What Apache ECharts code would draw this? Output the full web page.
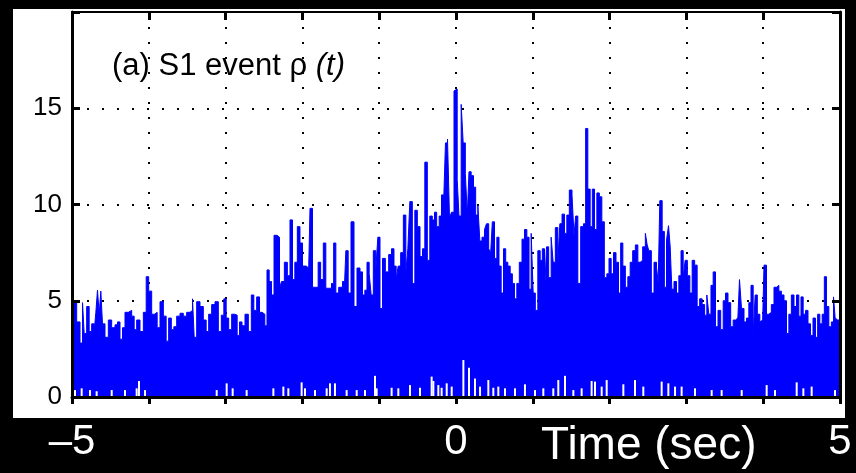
<!DOCTYPE html>
<html>
<head>
<meta charset="utf-8">
<title>S1 event rho(t)</title>
<script src="https://cdn.jsdelivr.net/npm/echarts@6/dist/echarts.min.js"></script>
<style>
  html, body { margin: 0; padding: 0; background: #000; }
  #wrap { position: relative; width: 856px; height: 473px; overflow: hidden; }
  #panel { position: absolute; left: 13px; top: 9px; width: 832px; height: 409px; background: #fff; }
  #chart { position: absolute; left: 0; top: 0; width: 856px; height: 473px; }
</style>
</head>
<body>
<div id="wrap">
  <div id="panel"></div>
  <div id="chart"></div>
</div>
<script>
// upper edge of rho(t) as [time (s), value]
var upperA = [[-5.000,4.2],[-4.961,4.95],[-4.917,3.9],[-4.874,2.8],[-4.852,4.9],[-4.831,3.3],[-4.787,4.7],[-4.766,3.4],[-4.722,3.8],[-4.700,3.4],[-4.679,4.4],[-4.657,5.55],[-4.635,4.3],[-4.614,5.5],[-4.592,3.8],[-4.549,3.1],[-4.505,4.0],[-4.462,3.6],[-4.418,3.75],[-4.397,3.9],[-4.353,3.0],[-4.332,3.6],[-4.288,4.4],[-4.245,4.5],[-4.201,4.2],[-4.180,3.5],[-4.136,4.0],[-4.093,3.4],[-4.049,4.4],[-4.019,6.25],[-3.984,5.5],[-3.941,4.3],[-3.906,4.4],[-3.876,3.6],[-3.832,4.95],[-3.789,4.2],[-3.759,2.9],[-3.724,4.1],[-3.689,3.5],[-3.659,3.65],[-3.615,4.2],[-3.572,4.35],[-3.529,4.2],[-3.485,4.4],[-3.442,4.5],[-3.420,5.1],[-3.398,3.1],[-3.355,4.95],[-3.312,4.7],[-3.268,4.0],[-3.238,3.4],[-3.203,4.3],[-3.160,4.8],[-3.116,4.95],[-3.073,3.4],[-3.038,4.25],[-3.008,5.1],[-2.977,4.1],[-2.943,3.5],[-2.899,4.3],[-2.865,4.25],[-2.834,3.2],[-2.804,3.9],[-2.769,3.7],[-2.726,4.3],[-2.682,3.4],[-2.648,5.3],[-2.617,4.5],[-2.574,5.2],[-2.543,4.4],[-2.509,4.3]];
var upperB = [[-2.504,4.3],[-2.474,3.7],[-2.448,6.6],[-2.417,6.0],[-2.387,5.3],[-2.352,8.4],[-2.309,8.3],[-2.287,5.65],[-2.257,6.0],[-2.213,7.0],[-2.179,6.3],[-2.144,9.2],[-2.114,6.1],[-2.083,7.0],[-2.049,8.85],[-2.014,8.0],[-1.983,6.8],[-1.918,6.7],[-1.884,9.8],[-1.853,5.7],[-1.810,5.7],[-1.780,7.0],[-1.745,6.1],[-1.710,8.0],[-1.680,5.65],[-1.636,5.65],[-1.606,5.9],[-1.580,8.0],[-1.549,5.4],[-1.506,5.7],[-1.450,6.0],[-1.419,7.6],[-1.389,5.4],[-1.345,9.1],[-1.311,4.7],[-1.267,6.7],[-1.233,6.5],[-1.202,5.3],[-1.172,5.55],[-1.146,7.0],[-1.115,6.4],[-1.094,5.3],[-1.059,7.6],[-1.029,6.6],[-1.007,8.3],[-0.972,4.6],[-0.942,7.2],[-0.898,6.5],[-0.855,7.4],[-0.825,7.7],[-0.790,6.8],[-0.768,6.1],[-0.738,6.8],[-0.703,7.5],[-0.668,9.45],[-0.638,6.5],[-0.616,7.7],[-0.586,10.15],[-0.551,5.9],[-0.521,9.7],[-0.486,8.85],[-0.451,7.3],[-0.421,7.7],[-0.391,12.2],[-0.356,7.1],[-0.326,9.4],[-0.291,9.2],[-0.269,9.6],[-0.234,8.85],[-0.204,9.4],[-0.174,10.5],[-0.148,10.1],[-0.126,13.2],[-0.095,13.4],[-0.074,9.3],[-0.043,9.6],[-0.009,15.9]];
var upperC = [[0.005,16.0],[0.026,11.3],[0.052,9.4],[0.083,15.2],[0.104,13.2],[0.139,11.6],[0.156,9.45],[0.182,11.7],[0.213,11.5],[0.243,10.9],[0.269,9.45],[0.300,9.97],[0.321,8.1],[0.356,8.3],[0.386,8.7],[0.408,9.0],[0.443,7.7],[0.460,7.5],[0.486,9.1],[0.517,7.2],[0.547,8.3],[0.573,6.8],[0.603,5.4],[0.634,7.7],[0.660,7.0],[0.690,6.8],[0.721,6.4],[0.747,5.9],[0.777,5.1],[0.807,5.9],[0.842,7.0],[0.877,8.2],[0.907,8.7],[0.938,8.3],[0.964,5.6],[0.994,8.5],[1.016,5.4],[1.050,4.5],[1.081,7.6],[1.111,7.1],[1.137,7.7],[1.168,5.4],[1.189,7.8],[1.224,6.2],[1.254,8.3],[1.276,7.0],[1.311,8.8],[1.341,7.0],[1.363,9.0],[1.398,9.5],[1.428,8.5],[1.458,9.45],[1.493,10.75],[1.528,10.5],[1.545,8.4],[1.571,9.4],[1.602,5.9],[1.645,8.85],[1.675,9.0],[1.701,13.95],[1.732,10.8],[1.762,8.85],[1.788,10.8],[1.819,8.7],[1.849,10.6],[1.884,10.4],[1.914,9.1],[1.949,6.2],[1.979,6.4],[2.005,7.2],[2.036,6.4],[2.066,7.5],[2.101,7.0],[2.131,5.4],[2.157,8.0],[2.188,6.8],[2.222,5.7],[2.253,6.25],[2.283,7.0],[2.318,7.6],[2.353,7.9],[2.383,7.0],[2.413,7.1],[2.448,7.8],[2.483,8.5]];
var upperD = [[2.496,7.9],[2.526,7.6],[2.561,5.4],[2.596,7.0],[2.626,6.75],[2.639,5.9],[2.669,10.2],[2.700,8.6],[2.726,5.7],[2.756,8.15],[2.778,8.9],[2.800,7.8],[2.821,5.6],[2.856,6.0],[2.886,5.4],[2.917,6.3],[2.943,7.6],[2.973,6.2],[2.995,7.1],[3.030,6.3],[3.060,5.4],[3.090,7.1],[3.125,6.85],[3.155,4.7],[3.190,5.1],[3.220,4.8],[3.255,4.25],[3.277,5.3],[3.307,4.3],[3.333,5.8],[3.364,6.5],[3.394,3.65],[3.429,4.5],[3.464,3.5],[3.494,5.0],[3.524,5.4],[3.559,4.9],[3.594,3.65],[3.624,4.0],[3.655,4.1],[3.681,3.9],[3.702,6.1],[3.733,4.6],[3.767,3.9],[3.798,4.1],[3.828,4.9],[3.854,5.8],[3.885,3.2],[3.906,5.3],[3.941,4.3],[3.971,3.9],[3.993,4.0],[4.028,6.85],[4.058,4.3],[4.089,4.4],[4.123,4.8],[4.158,5.7],[4.188,5.8],[4.219,5.5],[4.254,5.3],[4.288,5.0],[4.319,3.3],[4.349,4.3],[4.384,5.3],[4.418,4.7],[4.449,5.3],[4.479,4.2],[4.505,5.2],[4.536,4.3],[4.566,4.5],[4.601,3.8],[4.631,3.2],[4.666,4.1],[4.696,3.1],[4.722,4.3],[4.753,3.8],[4.783,4.3],[4.809,6.25],[4.839,4.7],[4.870,3.65],[4.905,3.9],[4.926,5.2],[4.948,4.1],[4.970,4.0],[5.000,4.0]];

// where the signal stays above zero for a moment (white gaps at the bottom)
var lowGaps = [[-4.961,0.36],[-4.874,0.45],[-4.766,0.36],[-4.679,0.3],[-4.483,0.36],[-4.310,0.36],[-4.158,0.45],[-4.128,0.83],[-4.049,0.36],[-3.116,0.36],[-2.986,0.71],[-2.908,0.45],[-2.726,0.36],[-2.378,0.45],[-2.248,0.54],[-2.183,0.45],[-2.010,0.76],[-1.966,0.45],[-1.836,0.36],[-1.684,0.45],[-1.641,0.71],[-1.576,0.71],[-1.424,0.36],[-1.293,0.36],[-1.185,0.36],[-1.055,1.1],[-1.033,0.45],[-0.838,0.48],[-0.751,0.45],[-0.599,0.62],[-0.469,0.48],[-0.317,1.06],[-0.295,0.83],[-0.230,0.62],[-0.187,0.48],[-0.121,0.71],[-0.056,0.54],[0.096,1.92],[0.169,1.52],[0.247,0.96],[0.313,0.54],[0.421,0.88],[0.486,0.48],[0.551,0.54],[0.638,0.45],[0.768,0.45],[0.898,0.66],[1.029,0.36],[1.137,0.45],[1.267,0.45],[1.332,0.88],[1.419,1.1],[1.528,0.36],[1.636,0.45],[1.766,0.83],[1.810,0.8],[1.897,0.54],[1.962,0.88],[2.179,0.66],[2.331,0.88],[2.439,0.54],[2.678,0.8],[2.765,0.71],[2.852,0.54],[2.938,0.54],[3.112,0.45],[3.329,0.36],[3.459,0.36],[3.720,0.36],[4.045,0.62],[4.154,0.36],[4.436,0.76],[4.523,0.45],[4.631,0.54],[4.935,0.36]];

var xLabelVals = [-5, 0, 5];
var xLabelText = ['\u20135', '0', '5'];
var yLabelVals = [0, 5, 10, 15];

var FONT = 'Liberation Sans, Arial, sans-serif';
var BLUE = '#0000ff';
var gridDots = { color: '#000', width: 2, type: [2, 13] };

var chart = echarts.init(document.getElementById('chart'));

var options = {
  animation: false,
  grid: { left: 72, right: 16, top: 12, bottom: 76 },
  title: [
    {
      text: '(a) S1 event \u03c1 {i|(t)}',
      left: 107, top: 46,
      textStyle: {
        color: '#000', fontSize: 31, fontWeight: 'normal', fontFamily: FONT,
        rich: { i: { fontStyle: 'italic', fontSize: 31, fontFamily: FONT, color: '#000' } }
      }
    },
    {
      text: 'Time (sec)',
      left: 536, top: 418,
      textStyle: { color: '#fff', fontSize: 46, fontWeight: 'normal', fontFamily: FONT }
    }
  ],
  xAxis: [
    {
      type: 'value', min: -5, max: 5, interval: 1, position: 'bottom', z: 10,
      axisLine: { show: true, onZero: false, lineStyle: { color: '#000', width: 3 } },
      axisTick: { show: true, inside: false, length: 7, lineStyle: { color: '#000', width: 3 } },
      axisLabel: {
        color: '#fff', fontSize: 42, fontFamily: FONT, margin: 24,
        showMinLabel: true, showMaxLabel: true,
        formatter: function (v) {
          var i = xLabelVals.indexOf(v);
          return i < 0 ? '' : xLabelText[i];
        }
      },
      splitLine: { show: false }
    },
    {
      type: 'value', min: -5, max: 5, interval: 1, position: 'top', z: 0,
      axisLine: { show: true, onZero: false, lineStyle: { color: '#000', width: 2 } },
      axisTick: { show: true, inside: true, length: 8, lineStyle: { color: '#000', width: 3 } },
      axisLabel: { show: false },
      splitLine: { show: true, lineStyle: gridDots }
    }
  ],
  yAxis: [
    {
      type: 'value', min: 0, max: 20, interval: 5, position: 'left', z: 10,
      axisLine: { show: true, onZero: false, lineStyle: { color: '#000', width: 3 } },
      axisTick: { show: true, inside: true, length: 8, lineStyle: { color: '#000', width: 3 } },
      axisLabel: {
        color: '#000', fontSize: 26, fontFamily: FONT, margin: 10,
        formatter: function (v) { return yLabelVals.indexOf(v) < 0 ? '' : String(v); }
      },
      splitLine: { show: false }
    },
    {
      type: 'value', min: 0, max: 20, interval: 5, position: 'right', z: 10,
      axisLine: { show: true, onZero: false, lineStyle: { color: '#000', width: 3 } },
      axisTick: { show: true, inside: true, length: 8, lineStyle: { color: '#000', width: 3 } },
      axisLabel: { show: false },
      splitLine: { show: false }
    },
    {
      type: 'value', min: 0, max: 20, interval: 5, position: 'right', z: 0,
      axisLine: { show: false, onZero: false }, axisTick: { show: false }, axisLabel: { show: false },
      splitLine: { show: true, lineStyle: gridDots }
    }
  ],
  series: [
    {
      name: 'rho',
      type: 'line',
      xAxisIndex: 0, yAxisIndex: 0,
      step: 'middle',
      showSymbol: false,
      data: upperA.concat(upperB, upperC, upperD),
      lineStyle: { color: BLUE, width: 1 },
      areaStyle: { color: BLUE, opacity: 1 },
      z: 2
    },
    {
      name: 'gaps',
      type: 'bar',
      xAxisIndex: 0, yAxisIndex: 0,
      barWidth: 2,
      data: lowGaps,
      itemStyle: { color: '#fff' },
      z: 3
    }
  ]
};

chart.setOption(options);
</script>
</body>
</html>
